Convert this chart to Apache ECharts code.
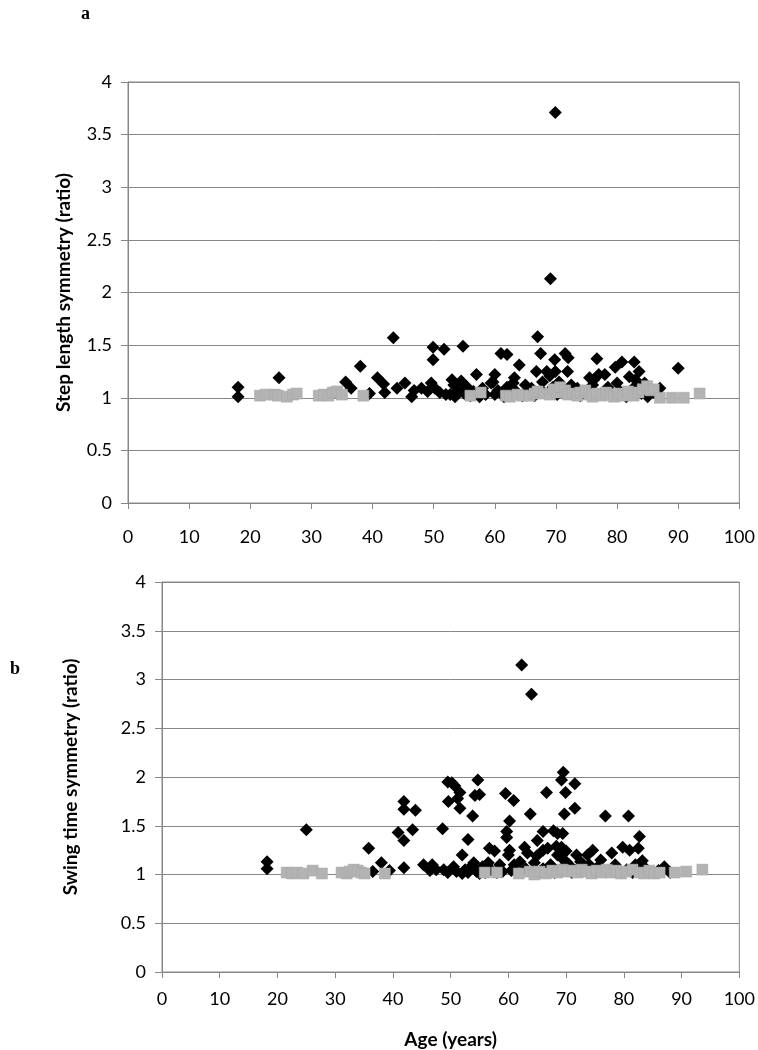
<!DOCTYPE html>
<html>
<head>
<meta charset="utf-8">
<script src="https://cdn.jsdelivr.net/npm/echarts@6/dist/echarts.min.js"></script>
<style>
html,body{margin:0;padding:0;background:#fff;}
#chart{width:758px;height:1050px;}
</style>
</head>
<body>
<div id="chart"></div>
<script>
// ---- Data (age in years, symmetry ratio) ----
const xTicks = [0, 10, 20, 30, 40, 50, 60, 70, 80, 90, 100];
const yTicks = [0, 0.5, 1, 1.5, 2, 2.5, 3, 3.5, 4];

// Panel a: step length symmetry
const stepBlack = [
[18,1.10],[18,1.01],[24.7,1.19],[35.6,1.15],[36.5,1.09],[38,1.30],[39.5,1.04],[40.8,1.19],[41.8,1.13],[42,1.05],
[43.4,1.57],[44,1.09],[45.3,1.14],[46.4,1.01],[46.8,1.07],[48,1.09],[49,1.06],[49.6,1.14],[49.9,1.48],[49.9,1.36],
[50.2,1.09],[51,1.05],[51.7,1.46],[52,1.03],[52.7,1.03],[53,1.17],[53.3,1.12],[53.5,1.01],[54,1.07],[54.5,1.16],
[54.8,1.49],[55,1.04],[55.5,1.10],[56,1.02],[56.5,1.06],[57,1.22],[57.5,1.01],[58,1.09],[58.5,1.03],[59.4,1.14],
[59.7,1.15],[60,1.22],[60,1.03],[60.5,1.07],[61,1.42],[61.5,1.01],[62,1.41],[62,1.10],[62.5,1.04],[63,1.14],
[63.2,1.19],[63.5,1.06],[64,1.31],[64.5,1.02],[65,1.12],[65.5,1.05],[66,1.09],[66.5,1.02],[66.8,1.25],[67,1.58],
[67.5,1.42],[67.8,1.15],[68,1.05],[68.5,1.25],[69,1.21],[69.1,2.13],[69.5,1.10],[69.8,1.36],[69.9,3.71],[69.9,1.25],
[70.2,1.03],[70.5,1.15],[71,1.07],[71.5,1.42],[71.9,1.25],[72,1.38],[72.5,1.12],[73,1.04],[73.5,1.09],[74,1.02],
[74.5,1.06],[75.5,1.19],[76,1.12],[76.2,1.17],[76.7,1.37],[77,1.22],[77.5,1.04],[78,1.22],[78.5,1.10],[79,1.02],
[79.7,1.29],[80,1.14],[80.5,1.06],[80.8,1.34],[81.5,1.01],[82,1.20],[82.8,1.34],[83,1.17],[82.8,1.10],[83.6,1.25],
[84,1.04],[84.5,1.14],[85,1.01],[86,1.05],[87,1.09],[90,1.28]
];
const stepGrey = [
[21.6,1.02],[22.5,1.03],[24,1.03],[24.5,1.02],[26,1.01],[27,1.03],[27.6,1.04],[31.2,1.02],[32,1.03],[32.8,1.02],
[33.5,1.05],[34.2,1.06],[35,1.03],[38.5,1.02],[56,1.02],[57.7,1.05],[61.8,1.02],[62.5,1.01],[63.7,1.03],[64.5,1.02],
[65.7,1.02],[66.5,1.04],[67,1.06],[68,1.04],[69,1.03],[69.6,1.08],[70.2,1.05],[70.7,1.10],[71.5,1.07],[72,1.03],
[72.7,1.04],[73.5,1.02],[74,1.05],[74.8,1.07],[75.5,1.03],[76,1.01],[76.7,1.04],[77.5,1.02],[78.2,1.05],[78.9,1.03],
[79.5,1.01],[80.2,1.04],[81,1.02],[81.8,1.06],[82.7,1.02],[83.5,1.05],[84.2,1.08],[84.9,1.11],[85.5,1.07],[86,1.08],
[87,1.00],[89,1.00],[90.9,1.00],[93.5,1.04]
];

// Panel b: swing time symmetry
const swingBlack = [
[18.2,1.13],[18.2,1.06],[25,1.46],[35.8,1.27],[36.5,1.03],[38,1.12],[39.4,1.04],[40.9,1.43],[41.9,1.75],[41.9,1.67],
[41.9,1.35],[41.9,1.07],[43.4,1.46],[43.9,1.66],[45.3,1.10],[46.4,1.04],[46.8,1.10],[47.5,1.05],[48.6,1.47],[48.8,1.05],
[49.5,1.95],[49.5,1.02],[49.6,1.75],[50.2,1.94],[50.5,1.08],[50.7,1.91],[51,1.03],[51.2,1.78],[51.6,1.84],[51.6,1.68],
[52,1.20],[52,1.01],[52.5,1.05],[53,1.36],[53,1.02],[53.5,1.08],[53.8,1.60],[54,1.12],[54.2,1.81],[54.5,1.03],
[54.7,1.97],[55,1.82],[55,1.01],[55.5,1.08],[56,1.02],[56.5,1.12],[56.7,1.27],[57,1.05],[57.6,1.24],[58,1.02],
[58.5,1.10],[59,1.03],[59.5,1.83],[59.7,1.44],[59.7,1.38],[60,1.20],[60.2,1.55],[60.2,1.25],[60.5,1.04],[60.9,1.76],
[61,1.10],[61.5,1.02],[62,1.13],[62.3,3.15],[62.8,1.28],[63,1.06],[63.3,1.22],[63.8,1.62],[64,2.85],[64,1.02],
[64.5,1.12],[64.9,1.19],[65,1.35],[65.5,1.03],[66,1.44],[66,1.25],[66,1.06],[66.6,1.84],[66.8,1.27],[67.3,1.10],
[67.8,1.45],[68,1.02],[68.3,1.29],[68.5,1.42],[68.5,1.20],[69,1.05],[69.2,1.97],[69.2,1.28],[69.4,1.42],[69.4,1.16],
[69.5,2.05],[69.7,1.62],[69.9,1.84],[70,1.24],[70,1.13],[70.5,1.10],[71,1.02],[71.5,1.93],[71.5,1.68],[71.8,1.20],
[72,1.06],[72.5,1.13],[73,1.04],[73.7,1.20],[74,1.10],[74.6,1.25],[75.5,1.08],[76,1.15],[76,1.03],[76.8,1.60],
[77.3,1.03],[77.9,1.22],[78.5,1.10],[79,1.04],[79.8,1.28],[80.5,1.05],[80.8,1.60],[81,1.25],[81.5,1.02],[82,1.10],
[82.5,1.27],[82.7,1.39],[83.2,1.14],[83.5,1.08],[84,1.04],[85,1.02],[86,1.04],[87,1.08],[88,1.02]
];
const swingGrey = [
[21.6,1.02],[22.5,1.01],[23.4,1.02],[24.5,1.01],[26.1,1.04],[27.7,1.01],[31.1,1.02],[32,1.01],[32.5,1.03],[33.2,1.05],
[33.9,1.04],[34.5,1.02],[35.1,1.01],[38.6,1.01],[55.9,1.02],[58,1.02],[61.8,1.01],[63.7,1.03],[64.5,1.00],[65.4,1.03],
[66.5,1.01],[67.6,1.04],[68.5,1.02],[69.4,1.05],[70.2,1.03],[71.1,1.04],[72,1.02],[72.7,1.05],[73.5,1.03],[74.4,1.01],
[75.3,1.04],[76.2,1.02],[77,1.05],[77.8,1.02],[78.7,1.04],[79.5,1.01],[80.4,1.03],[81.5,1.05],[82.7,1.02],[83.5,1.01],
[84.4,1.04],[85.3,1.01],[86.2,1.02],[88.8,1.02],[90.8,1.03],[93.6,1.05]
];

const panelLabels = ['a', 'b'];
const yTitles = ['Step length symmetry (ratio)', 'Swing time symmetry (ratio)'];
const xTitle = 'Age (years)';

// ---- Chart ----
const FONT = 'Lato';
const AX = '#868686';
const chart = echarts.init(document.getElementById('chart'), null, {renderer: 'canvas'});

function xAxisCfg(gi, withName, margin) {
  return {
    type: 'value', gridIndex: gi, min: xTicks[0], max: xTicks[xTicks.length - 1], interval: 10,
    axisLine: {show: true, onZero: false, lineStyle: {color: AX, width: 1}},
    axisTick: {show: true, inside: false, length: 6, lineStyle: {color: AX}},
    axisLabel: {color: '#000', fontFamily: FONT, fontSize: 18, margin: margin},
    splitLine: {show: false},
    name: withName ? xTitle : '', nameLocation: 'middle', nameGap: 58,
    nameTextStyle: {fontFamily: FONT, fontWeight: 'bold', fontSize: 19, color: '#000'}
  };
}
function yAxisCfg(gi, nameGap) {
  return {
    type: 'value', gridIndex: gi, min: yTicks[0], max: yTicks[yTicks.length - 1], interval: 0.5,
    axisLine: {show: true, lineStyle: {color: AX, width: 1}},
    axisTick: {show: true, inside: false, length: 7, lineStyle: {color: AX}},
    axisLabel: {color: '#000', fontFamily: FONT, fontSize: 18, margin: 16},
    splitLine: {show: true, lineStyle: {color: AX, width: 1}},
    name: yTitles[gi], nameLocation: 'middle', nameGap: nameGap, nameRotate: 90,
    nameTextStyle: {fontFamily: FONT, fontWeight: 'bold', fontSize: 19, color: '#000'}
  };
}
function blackSeries(gi, data) {
  return {type: 'scatter', xAxisIndex: gi, yAxisIndex: gi, data: data, symbol: 'diamond', symbolSize: 13,
    itemStyle: {color: '#000', opacity: 1}, emphasis: {disabled: true}, silent: true, animation: false};
}
function greySeries(gi, data) {
  return {type: 'scatter', xAxisIndex: gi, yAxisIndex: gi, data: data, symbol: 'rect', symbolSize: 11,
    itemStyle: {color: '#b3b3b3', borderColor: '#a6a6a6', borderWidth: 0.5, opacity: 1}, emphasis: {disabled: true}, silent: true, animation: false};
}

chart.setOption({
  backgroundColor: '#fff',
  animation: false,
  grid: [
    {left: 128, top: 82, width: 615, height: 421, show: true, borderColor: AX, borderWidth: 1},
    {left: 162, top: 582, width: 578, height: 394, show: true, borderColor: AX, borderWidth: 1}
  ],
  xAxis: [xAxisCfg(0, false, 25), xAxisCfg(1, true, 18)],
  yAxis: [yAxisCfg(0, 55), yAxisCfg(1, 82)],
  series: [
    blackSeries(0, stepBlack), greySeries(0, stepGrey),
    blackSeries(1, swingBlack), greySeries(1, swingGrey)
  ],
  graphic: [
    {type: 'text', left: 81, top: 5, style: {text: panelLabels[0], font: 'bold 18px "Liberation Serif"', fill: '#000'}},
    {type: 'text', left: 10, top: 660, style: {text: panelLabels[1], font: 'bold 18px "Liberation Serif"', fill: '#000'}}
  ]
});
</script>
</body>
</html>
